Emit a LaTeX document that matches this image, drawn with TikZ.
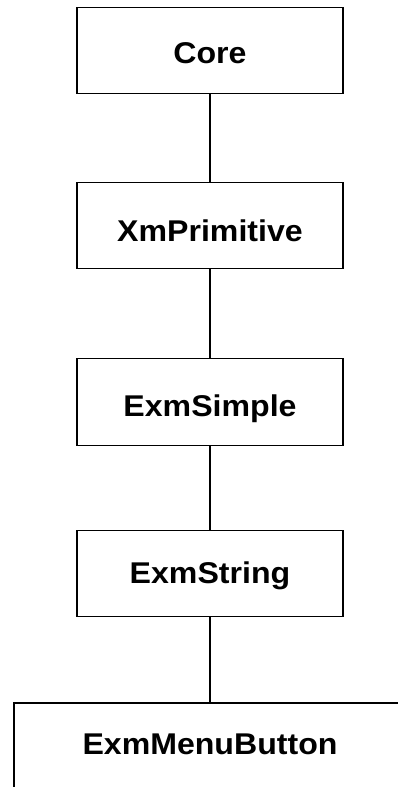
\documentclass[tikz,border=0pt]{standalone}
\usepackage{fontspec}
\setmainfont{Liberation Sans}
\begin{document}
\begin{tikzpicture}[x=1pt,y=-1pt,
  classbox/.style={draw, line width=1.5pt, minimum width=266pt, minimum height=86pt, inner sep=0pt},
  classname/.style={font=\fontsize{30}{36}\selectfont\bfseries, text height=22pt, text depth=0pt},
  link/.style={line width=1.5pt}]
\useasboundingbox (0,0) rectangle (398,787);
\clip (0,0) rectangle (398,787);
% class name, slightly widened, lowered by the optional amount
\newcommand{\wname}[2][0pt]{\raisebox{-#1}{\scalebox{1.07}[1]{#2}}}
\node[classbox, classname] (core) at (210,50.5) {\wname[1.5pt]{Core}};
\node[classbox, classname] (prim) at (210,225.5) {\wname[5pt]{XmPrimitive}};
\node[classbox, classname, minimum height=87pt] (simple) at (210,402) {\wname[3pt]{ExmSimple}};
\node[classbox, classname] (string) at (210,573.5) {\wname[-1.5pt]{ExmString}};
\node[draw, line width=1.5pt, minimum width=447pt, minimum height=160pt, anchor=north west, inner sep=0pt] (menu) at (13,702) {};
\node[classname] (menutext) at (210,743) {\wname{ExmMenuButton}};
\draw[link] (core) -- (prim);
\draw[link] (prim) -- (simple);
\draw[link] (simple) -- (string);
\draw[link] (string.south) -- (string.south |- menu.north);
\end{tikzpicture}
\end{document}
